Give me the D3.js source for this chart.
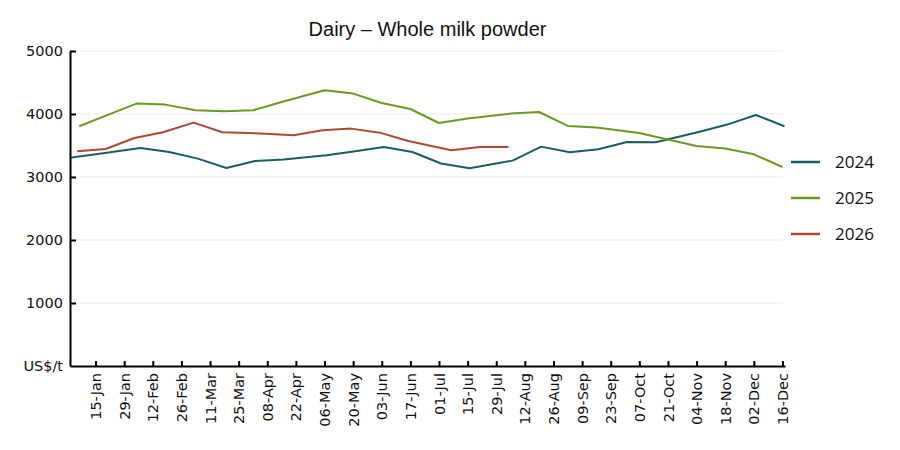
<!DOCTYPE html>
<html>
<head>
<meta charset="utf-8">
<script src="https://cdn.jsdelivr.net/npm/d3@7"></script>
<style>
  body { margin: 0; background: #fff; }
  svg { display: block; }
</style>
</head>
<body>
<svg id="chart" width="900" height="450"></svg>
<script>
// ===== DATA =====
// GDT auction dates (day-month), plotted on a common calendar year
const dates2024 = ['02-Jan', '16-Jan', '06-Feb', '20-Feb', '05-Mar', '19-Mar', '02-Apr', '16-Apr',
    '07-May', '21-May', '04-Jun', '18-Jun', '02-Jul', '16-Jul', '06-Aug', '20-Aug',
    '03-Sep', '17-Sep', '01-Oct', '15-Oct', '05-Nov', '19-Nov', '03-Dec', '17-Dec'];
const values2024 = [3302, 3365, 3460, 3397, 3292, 3143, 3254, 3276,
    3344, 3408, 3476, 3397, 3215, 3138, 3260, 3482,
    3392, 3440, 3556, 3551, 3714, 3832, 3984, 3805];

const dates2025 = ['07-Jan', '21-Jan', '04-Feb', '18-Feb', '04-Mar', '18-Mar', '01-Apr', '15-Apr',
    '06-May', '20-May', '03-Jun', '17-Jun', '01-Jul', '15-Jul', '05-Aug', '19-Aug',
    '02-Sep', '16-Sep', '07-Oct', '21-Oct', '04-Nov', '18-Nov', '02-Dec', '16-Dec'];
const values2025 = [3805, 3985, 4165, 4149, 4059, 4043, 4059, 4190,
    4376, 4324, 4175, 4079, 3857, 3927, 4006, 4032,
    3810, 3784, 3698, 3594, 3492, 3451, 3360, 3159];

const dates2026 = ['06-Jan', '20-Jan', '03-Feb', '17-Feb', '03-Mar', '17-Mar', '07-Apr', '21-Apr',
    '05-May', '19-May', '02-Jun', '16-Jun', '07-Jul', '21-Jul', '04-Aug'];
const values2026 = [3408, 3444, 3619, 3710, 3863, 3710, 3688, 3662,
    3741, 3768, 3704, 3571, 3424, 3476, 3476];

const seriesNames = ['2024', '2025', '2026'];
const seriesColors = ['#1a5e63', '#6b9a22', '#ad4a2f'];

const tickLabels = ['15-Jan', '29-Jan', '12-Feb', '26-Feb', '11-Mar', '25-Mar', '08-Apr', '22-Apr',
    '06-May', '20-May', '03-Jun', '17-Jun', '01-Jul', '15-Jul', '29-Jul', '12-Aug',
    '26-Aug', '09-Sep', '23-Sep', '07-Oct', '21-Oct', '04-Nov', '18-Nov', '02-Dec', '16-Dec'];
const yTicks = [0, 1000, 2000, 3000, 4000, 5000];

// ===== CHART =====
const parseDay = d3.timeParse('%d-%b-%Y');
const toDate = s => parseDay(s + '-2024');

const margin = { top: 51, right: 115, bottom: 84, left: 70 };
const width = 900, height = 450;
const innerW = width - margin.left - margin.right;
const innerH = height - margin.top - margin.bottom;

const svg = d3.select('#chart');
const g = svg.append('g').attr('transform', `translate(${margin.left},${margin.top})`);

const x = d3.scaleTime()
    .domain([new Date(2024, 0, 2, 12), new Date(2024, 11, 17, 6)])
    .range([0, innerW]);
const y = d3.scaleLinear().domain([0, 5000]).range([innerH, 0]);

// gridlines
g.append('g')
    .selectAll('line')
    .data(yTicks.filter(d => d > 0))
    .join('line')
    .attr('x1', 0)
    .attr('x2', innerW - 2)
    .attr('y1', d => y(d))
    .attr('y2', d => y(d))
    .attr('stroke', '#ececec')
    .attr('stroke-width', 1.2);

svg.append('defs').append('clipPath').attr('id', 'plot-clip')
    .append('rect').attr('x', 0).attr('y', -5).attr('width', innerW).attr('height', innerH + 5);

const series = [
    { name: seriesNames[0], dates: dates2024, values: values2024 },
    { name: seriesNames[1], dates: dates2025, values: values2025 },
    { name: seriesNames[2], dates: dates2026, values: values2026 }
];

const line = d3.line()
    .x(d => x(d.date))
    .y(d => y(d.value));

g.append('g').attr('clip-path', 'url(#plot-clip)')
    .selectAll('path')
    .data(series)
    .join('path')
    .attr('fill', 'none')
    .attr('stroke', (d, i) => seriesColors[i])
    .attr('stroke-width', 2)
    .attr('stroke-linejoin', 'round')
    .attr('d', s => line(s.dates.map((dt, i) => ({ date: toDate(dt), value: s.values[i] }))));

// axes
const xAxisG = g.append('g')
    .attr('transform', `translate(0,${innerH})`)
    .call(d3.axisBottom(x)
        .tickValues(tickLabels.map(toDate))
        .tickFormat((d, i) => tickLabels[i])
        .tickSize(-5)
        .tickSizeOuter(0));

xAxisG.selectAll('text')
    .attr('transform', 'rotate(-90)')
    .attr('x', -7)
    .attr('y', 0)
    .attr('dy', '0.35em')
    .style('text-anchor', 'end');

const yAxisG = g.append('g')
    .call(d3.axisLeft(y)
        .tickValues(yTicks)
        .tickFormat(d => d === 0 ? 'US$/t' : d)
        .tickSize(-6)
        .tickPadding(7)
        .tickSizeOuter(0));

[xAxisG, yAxisG].forEach(a => {
    a.selectAll('text')
        .attr('fill', '#111')
        .style('font-family', '"DejaVu Sans", Verdana, sans-serif')
        .style('font-size', '14.5px');
    a.selectAll('line, path').attr('stroke', '#000').attr('stroke-width', 2);
});
yAxisG.select('.tick line').remove();

// title
svg.append('text')
    .attr('x', margin.left + innerW / 2)
    .attr('y', 36)
    .attr('text-anchor', 'middle')
    .attr('fill', '#111')
    .style('font-family', '"Liberation Sans", Arial, sans-serif')
    .style('font-size', '20px')
    .text('Dairy \u2013 Whole milk powder');

// legend
const legend = svg.append('g')
    .selectAll('g')
    .data(series)
    .join('g')
    .attr('transform', (d, i) => `translate(791,${162 + i * 36})`);

legend.append('line')
    .attr('x1', 0)
    .attr('x2', 29)
    .attr('stroke', (d, i) => seriesColors[i])
    .attr('stroke-width', 2.5);

legend.append('text')
    .attr('x', 44)
    .attr('dy', '0.35em')
    .attr('fill', '#111')
    .style('font-family', '"Open Sans", sans-serif')
    .style('font-size', '17px')
    .text(d => d.name);
</script>
</body>
</html>
